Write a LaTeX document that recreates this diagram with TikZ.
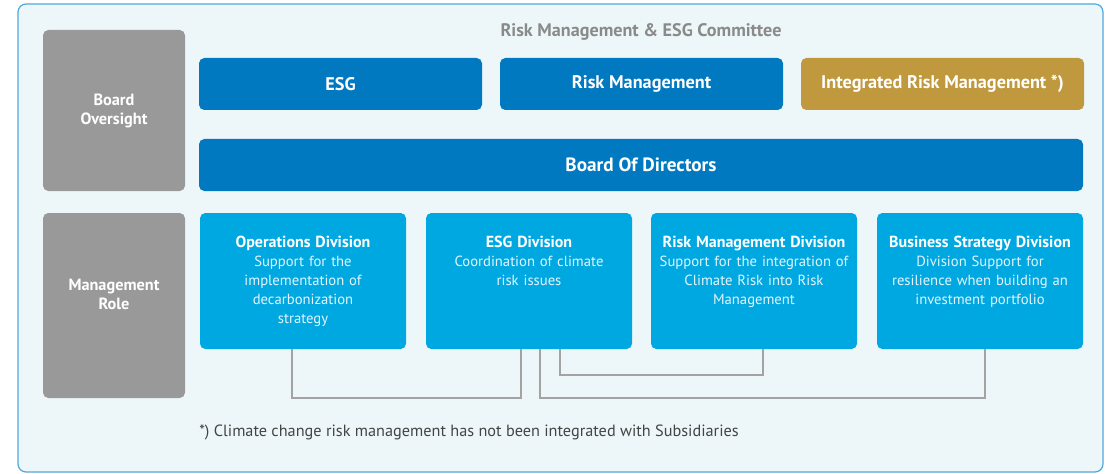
\documentclass[tikz,border=0pt]{standalone}
\usepackage{fontspec}
\setmainfont{PT Sans}
\usetikzlibrary{calc}
\definecolor{bgc}{HTML}{EDF7FA}
\definecolor{bordc}{HTML}{4FA8DC}
\definecolor{grayc}{HTML}{999999}
\definecolor{darkb}{HTML}{0079C1}
\definecolor{goldc}{HTML}{C0993E}
\definecolor{lightb}{HTML}{00A8E1}
\definecolor{linec}{HTML}{A3A3A3}
\definecolor{titlec}{HTML}{8A8A8A}
\definecolor{descc}{HTML}{E3F5FC}
\definecolor{notec}{HTML}{444444}
\newcommand{\divtfont}{\color{white}\bfseries\fontsize{12}{14.2}\selectfont}
\tikzset{
  sidebox/.style={fill=grayc, rounded corners=4pt, minimum width=142*0.75pt, inner sep=0pt},
  sidetext/.style={text=white, font=\bfseries\fontsize{12.2}{14.2}\selectfont, align=center, inner sep=0pt},
  topbox/.style={fill=darkb, rounded corners=4pt, minimum width=283*0.75pt, minimum height=52*0.75pt, text=white, font=\bfseries\fontsize{13.7}{15}\selectfont, inner sep=0pt},
  divbox/.style={fill=lightb, rounded corners=4pt, minimum width=206*0.75pt, minimum height=136*0.75pt, inner sep=0pt},
  divtext/.style={anchor=north, align=center, text width=204*0.75pt, text=descc, font=\fontsize{11}{14.2}\selectfont, inner sep=0pt},
  conn/.style={draw=linec, line width=1pt},
}
\begin{document}
\begin{tikzpicture}[x=0.75pt, y=-0.75pt]
\useasboundingbox (0,0) rectangle (1109,474);
\draw[fill=bgc, draw=bordc, line width=0.9pt, rounded corners=6pt] (18,4) rectangle (1103,472);
\node[sidebox, minimum height=161*0.75pt] (bo) at (114,110.5) {};
\node[sidetext] (bot) at (bo.center) {Board\\Oversight};
\node[sidebox, minimum height=185*0.75pt] (mr) at (114,305.5) {};
\node[sidetext] (mrt) at ($(mr.center)+(0,-11)$) {Management\\Role};
\node[text=titlec, font=\bfseries\fontsize{13.6}{15}\selectfont] (com) at (641,31.5) {Risk Management \& ESG Committee};
\node[topbox] (esg) at (340.5,84) {\raisebox{-1.5pt}{ESG}};
\node[topbox] (rm) at (641.5,84) {\raisebox{-1.5pt}{Risk Management}};
\node[topbox, fill=goldc] (irm) at (942.5,84) {\raisebox{-1.5pt}{Integrated Risk Management *)}};
\node[topbox, minimum width=884*0.75pt, font=\bfseries\fontsize{14.4}{16}\selectfont] (bod) at (641,165) {\raisebox{1pt}{Board Of Directors}};
\node[divbox] (ops) at (303,281) {};
\node[divbox] (esgd) at (529,281) {};
\node[divbox] (rmd) at (754,281) {};
\node[divbox] (bsd) at (980,281) {};
\node[divtext] (opst) at ($(ops.north)+(0,23)$) {{\divtfont Operations Division}\\Support for the\\implementation of\\decarbonization\\strategy};
\node[divtext] (esgt) at ($(esgd.north)+(0,23)$) {{\divtfont ESG Division}\\Coordination of climate\\risk issues};
\node[divtext] (rmdt) at ($(rmd.north)+(0,23)$) {{\divtfont Risk Management Division}\\Support for the integration of\\Climate Risk into Risk\\Management};
\node[divtext] (bsdt) at ($(bsd.north)+(0,23)$) {{\divtfont Business Strategy Division}\\Division Support for\\resilience when building an\\investment portfolio};
% connector corner points
\coordinate (a1) at ($(ops.south)+(-11,0)$);
\coordinate (a2) at ($(esgd.south)+(-8,0)$);
\coordinate (b1) at ($(esgd.south)+(11,0)$);
\coordinate (b2) at ($(bsd.south)+(5,0)$);
\coordinate (c1) at ($(esgd.south)+(31,0)$);
\coordinate (c2) at ($(rmd.south)+(9,0)$);
\coordinate (y1) at (0,398);
\coordinate (y2) at (0,375);
\draw[conn] (a1) -- (a1 |- y1) -| (a2);
\draw[conn] (b1) -- (b1 |- y1) -| (b2);
\draw[conn] (c1) -- (c1 |- y2) -| (c2);
\node[anchor=west, text=notec, font=\fontsize{12.2}{14}\selectfont, inner sep=0pt] (note) at (199,432) {*) Climate change risk management has not been integrated with Subsidiaries};
\end{tikzpicture}
\end{document}
